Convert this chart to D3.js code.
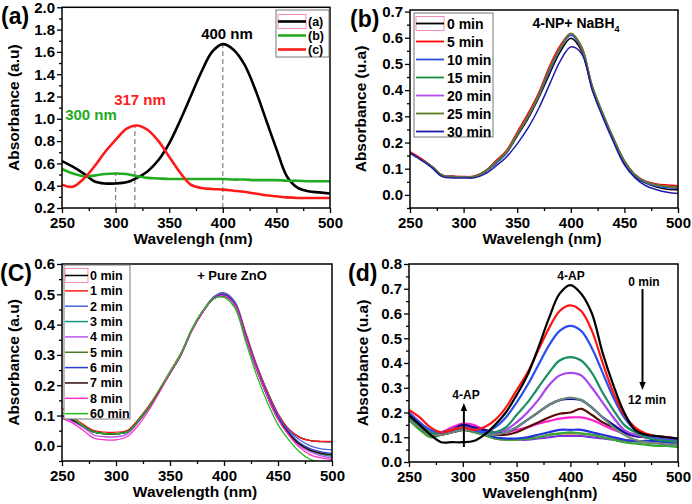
<!DOCTYPE html>
<html><head><meta charset="utf-8">
<script src="https://cdn.jsdelivr.net/npm/d3@7"></script>
<style>
html,body{margin:0;padding:0;background:#fff;}
svg{display:block;}
text{font-family:"Liberation Sans",Arial,sans-serif;font-weight:bold;}
</style></head>
<body><svg id="c" width="692" height="504"></svg>
<script>
// ---------- shared wavelength grid ----------
const wl = [250,260,270,280,290,300,310,320,330,340,350,360,370,380,390,400,410,420,430,440,450,460,470,480,490,500];
const xTicks = [250,300,350,400,450,500];

// ---------- panel (a) ----------
const aLabels = ["(a)","(b)","(c)"];
const aBlack = [.62,.57,.51,.44,.42,.42,.43,.47,.53,.63,.78,.98,1.20,1.42,1.60,1.67,1.62,1.49,1.27,1.00,.73,.48,.38,.35,.34,.33];
const aGreen = [.55,.51,.485,.49,.505,.51,.505,.485,.47,.465,.46,.46,.46,.46,.46,.46,.455,.455,.45,.45,.45,.445,.445,.44,.44,.44];
const aRed   = [.41,.39,.46,.57,.70,.81,.91,.94,.90,.80,.66,.52,.41,.38,.37,.365,.355,.345,.33,.315,.305,.295,.29,.29,.29,.29];
const aPeakX = [300,318,400];
const aPeakY = [0.51,0.94,1.67];
const aPeakText = ["300 nm","317 nm","400 nm"];
const aYTicks = [0.2,0.4,0.6,0.8,1.0,1.2,1.4,1.6,1.8,2.0];

// ---------- panel (b) ----------
const bLabels = ["0 min","5 min","10 min","15 min","20 min","25 min","30 min"];
const b0  = [.16,.135,.11,.075,.07,.068,.07,.088,.12,.16,.225,.29,.37,.46,.545,.598,.55,.405,.30,.205,.12,.07,.045,.03,.022,.02];
const b5  = [.165,.14,.11,.075,.072,.07,.072,.092,.13,.17,.24,.31,.39,.49,.57,.615,.555,.405,.30,.21,.13,.078,.052,.042,.038,.035];
const b10 = [.16,.135,.11,.075,.07,.068,.07,.088,.12,.16,.228,.295,.375,.47,.555,.61,.56,.41,.305,.21,.125,.072,.045,.033,.027,.025];
const b15 = [.16,.135,.11,.075,.07,.068,.07,.09,.125,.165,.232,.30,.38,.48,.56,.615,.565,.415,.31,.215,.13,.077,.05,.038,.032,.03];
const b20 = [.16,.135,.11,.075,.07,.068,.07,.09,.125,.165,.232,.30,.38,.48,.56,.615,.565,.415,.31,.215,.13,.077,.05,.038,.032,.03];
const b25 = [.16,.135,.11,.075,.07,.068,.07,.09,.125,.165,.232,.30,.38,.48,.56,.617,.567,.417,.31,.215,.13,.077,.05,.038,.032,.03];
const b30 = [.16,.135,.105,.07,.065,.065,.065,.08,.11,.145,.195,.255,.33,.42,.51,.565,.54,.40,.295,.20,.115,.065,.035,.02,.01,.005];
const bYTicks = [0.0,0.1,0.2,0.3,0.4,0.5,0.6,0.7];

// ---------- panel (c) ----------
const cLabels = ["0 min","1 min","2 min","3 min","4 min","5 min","6 min","7 min","8 min","60 min"];
const c0  = [.10,.085,.065,.045,.04,.04,.045,.08,.125,.18,.24,.30,.38,.44,.485,.50,.47,.37,.265,.18,.105,.055,.028,.017,.014,.013];
const c1  = [.125,.095,.07,.05,.045,.045,.05,.085,.13,.185,.245,.305,.38,.44,.49,.505,.475,.375,.27,.18,.105,.055,.028,.017,.015,.015];
const c2  = [.10,.085,.065,.045,.04,.04,.045,.08,.125,.18,.24,.30,.38,.44,.49,.505,.475,.37,.265,.175,.10,.05,.02,.0,-.01,-.013];
const c3  = [.10,.085,.065,.045,.04,.04,.045,.08,.125,.18,.24,.30,.38,.44,.485,.495,.465,.36,.255,.165,.09,.04,.005,-.015,-.028,-.035];
const c4  = [.095,.08,.06,.035,.03,.03,.038,.075,.12,.178,.24,.30,.38,.44,.485,.495,.465,.36,.255,.165,.088,.038,.0,-.02,-.033,-.04];
const c5  = [.10,.085,.065,.045,.04,.04,.045,.08,.125,.18,.24,.30,.38,.44,.485,.495,.465,.36,.255,.165,.09,.04,.005,-.015,-.025,-.03];
const c6  = [.10,.085,.065,.045,.04,.04,.045,.08,.125,.18,.24,.30,.38,.44,.485,.50,.47,.365,.26,.17,.095,.045,.01,-.01,-.02,-.025];
const c7  = [.10,.085,.065,.045,.04,.04,.045,.08,.125,.18,.24,.30,.38,.44,.485,.495,.465,.36,.255,.165,.09,.04,.005,-.015,-.025,-.03];
const c8  = [.09,.075,.05,.025,.02,.02,.03,.065,.115,.175,.24,.30,.38,.44,.485,.495,.465,.36,.255,.165,.088,.035,-.005,-.03,-.04,-.045];
const c60 = [.11,.09,.065,.045,.04,.04,.045,.08,.125,.185,.245,.305,.385,.445,.485,.49,.455,.345,.235,.145,.07,.02,-.02,-.045,-.055,-.06];
const cYTicks = [0.0,0.1,0.2,0.3,0.4,0.5,0.6];

// ---------- panel (d) ----------
const d01 = [.19,.15,.11,.08,.08,.08,.085,.11,.15,.20,.27,.35,.46,.58,.68,.715,.68,.60,.44,.31,.20,.13,.11,.105,.10,.095];
const d02 = [.21,.18,.14,.12,.13,.14,.13,.14,.17,.22,.29,.36,.45,.54,.61,.633,.61,.53,.40,.28,.19,.14,.115,.105,.10,.095];
const d03 = [.20,.16,.13,.12,.13,.14,.13,.12,.14,.18,.24,.31,.39,.47,.53,.55,.53,.46,.36,.26,.18,.13,.11,.10,.095,.09];
const d04 = [.18,.15,.12,.12,.13,.14,.13,.12,.12,.14,.19,.24,.30,.36,.41,.424,.41,.36,.28,.21,.15,.12,.10,.09,.085,.08];
const d05 = [.19,.15,.12,.12,.13,.14,.13,.12,.12,.13,.16,.20,.25,.31,.35,.36,.35,.30,.24,.18,.13,.11,.10,.095,.09,.085];
const d06 = [.17,.14,.11,.11,.12,.13,.125,.115,.11,.12,.14,.17,.20,.23,.25,.26,.25,.22,.18,.14,.11,.09,.08,.075,.07,.07];
const d07 = [.19,.15,.12,.12,.13,.15,.14,.13,.12,.12,.14,.17,.20,.23,.25,.255,.25,.22,.18,.15,.12,.105,.10,.09,.09,.085];
const d08 = [.18,.14,.11,.11,.12,.13,.125,.12,.11,.11,.12,.14,.16,.18,.195,.20,.215,.19,.16,.14,.12,.105,.10,.095,.09,.085];
const d09 = [.20,.16,.12,.12,.14,.155,.15,.13,.12,.12,.13,.14,.155,.165,.175,.18,.18,.17,.15,.13,.115,.105,.10,.10,.10,.095];
const d10 = [.19,.15,.12,.12,.13,.15,.14,.12,.10,.095,.095,.10,.11,.12,.13,.13,.13,.12,.11,.10,.09,.085,.085,.085,.08,.08];
const d11 = [.17,.13,.10,.11,.12,.13,.12,.11,.095,.09,.09,.095,.10,.11,.115,.12,.115,.11,.10,.09,.08,.075,.07,.065,.065,.06];
const d12 = [.18,.14,.11,.11,.12,.13,.125,.11,.095,.09,.09,.095,.10,.11,.115,.115,.115,.11,.10,.095,.09,.085,.08,.08,.08,.08];
const d13 = [.19,.15,.11,.11,.12,.14,.13,.11,.095,.09,.09,.09,.095,.10,.105,.105,.105,.10,.095,.09,.085,.085,.08,.08,.08,.075];
const dYTicks = [0.0,0.1,0.2,0.3,0.4,0.5,0.6,0.7,0.8];

const svg = d3.select("#c");
let clipId = 0;

function panel(o) {
  const x = d3.scaleLinear().domain([250,500]).range([o.x0,o.x1]);
  const y = d3.scaleLinear().domain(o.yd).range([o.y1,o.y0]);
  const g = svg.append("g");
  const id = "clip" + (clipId++);
  g.append("clipPath").attr("id", id).append("rect")
    .attr("x", o.x0).attr("y", o.y0).attr("width", o.x1-o.x0).attr("height", o.y1-o.y0);
  const line = d3.line().x((d,i)=>x(wl[i])).y(d=>y(d)).curve(d3.curveCatmullRom.alpha(0.5));
  const lg = g.append("g").attr("clip-path", `url(#${id})`);
  if (o.extra) o.extra(lg, x, y);
  o.series.forEach(s => {
    lg.append("path").attr("d", line(s.v)).attr("fill","none")
      .attr("stroke", s.c).attr("stroke-width", o.lw).attr("stroke-linejoin","round");
  });
  // minor ticks
  const minorX = d3.range(275, 500, 50);
  g.append("g").attr("transform",`translate(0,${o.y1})`)
    .call(d3.axisBottom(x).tickValues(minorX).tickSize(3).tickFormat(""))
    .call(a=>a.select(".domain").remove());
  const yStep = o.yTicks[1]-o.yTicks[0];
  const minorY = o.yTicks.slice(0,-1).map(v=>v+yStep/2).concat(o.yd[0] < o.yTicks[0]-1e-9 ? [o.yTicks[0]-yStep/2] : []);
  g.append("g").attr("transform",`translate(${o.x0},0)`)
    .call(d3.axisLeft(y).tickValues(minorY.filter(v=>v>=o.yd[0]-1e-9)).tickSize(3).tickFormat(""))
    .call(a=>a.select(".domain").remove());
  // major ticks
  const ax = g.append("g").attr("transform",`translate(0,${o.y1})`)
    .call(d3.axisBottom(x).tickValues(xTicks).tickSize(5).tickPadding(4).tickFormat(d3.format("d")));
  ax.select(".domain").remove();
  ax.selectAll("text").attr("font-size", 15).attr("font-family",'"Liberation Sans",Arial,sans-serif').attr("font-weight","bold").attr("fill","#000");
  const ay = g.append("g").attr("transform",`translate(${o.x0},0)`)
    .call(d3.axisLeft(y).tickValues(o.yTicks).tickSize(5).tickPadding(2).tickFormat(d3.format(".1f")));
  ay.select(".domain").remove();
  ay.selectAll("text").attr("font-size", 15).attr("font-family",'"Liberation Sans",Arial,sans-serif').attr("font-weight","bold").attr("fill","#000");
  g.selectAll(".tick line").attr("stroke","#000").attr("stroke-width",1.3);
  // frame
  g.append("rect").attr("x",o.x0).attr("y",o.y0).attr("width",o.x1-o.x0).attr("height",o.y1-o.y0)
    .attr("fill","none").attr("stroke","#000").attr("stroke-width",1.5);
  // titles
  g.append("text").attr("x",o.xt).attr("y",o.y1+36).attr("text-anchor","middle").attr("font-size",15.5).text(o.xTitle);
  g.append("text").attr("transform",`translate(${o.yx},${(o.y0+o.y1)/2}) rotate(-90)`)
    .attr("text-anchor","middle").attr("font-size",15.5).text(o.yTitle);
  g.append("text").attr("x",o.lx).attr("y",o.y0+17).attr("font-size",23).text(o.label);
  // legend
  if (o.legend) {
    const L = o.legend;
    g.append("rect").attr("x",L.x0).attr("y",L.y0).attr("width",L.x1-L.x0).attr("height",L.y1-L.y0)
      .attr("fill","#fff").attr("stroke","#777").attr("stroke-width",1);
    o.series.forEach((s,i)=>{
      const yy = L.ry + i*L.step;
      if (i===0) g.append("rect").attr("x",L.lx0).attr("y",yy-7).attr("width",L.lx1-L.lx0).attr("height",14)
        .attr("fill","none").attr("stroke","#f28cb4").attr("stroke-width",1);
      g.append("line").attr("x1",L.lx0).attr("x2",L.lx1).attr("y1",yy).attr("y2",yy)
        .attr("stroke",s.c).attr("stroke-width",L.lw);
      g.append("text").attr("x",L.tx).attr("y",yy+L.fs*0.36).attr("font-size",L.fs).text(s.name);
    });
  }
  return {g,x,y};
}

// ----- (a)
const A = panel({
  x0:62, x1:330, y0:7.3, y1:208, yd:[0.2,2.0], yTicks:aYTicks, lw:2.6,
  series:[{v:aBlack,c:"#000000",name:aLabels[0]},{v:aGreen,c:"#22aa22",name:aLabels[1]},{v:aRed,c:"#ff1a1a",name:aLabels[2]}],
  xTitle:"Wavelengh (nm)", xt:193, yTitle:"Absorbance (a.u)", yx:19, lx:1, label:"(a)",
  legend:{x0:276,x1:329,y0:10,y1:57,lx0:278,lx1:306,tx:308,ry:21.5,step:14,fs:12.5,lw:2.6},
  extra:(lg,x,y)=>{
    aPeakX.forEach((p,i)=>{
      lg.append("line").attr("x1",x(p)).attr("x2",x(p)).attr("y1",y(0.2)).attr("y2",y(aPeakY[i]))
        .attr("stroke","#888").attr("stroke-width",1.3).attr("stroke-dasharray","5,3");
    });
  }
});
const aCol = ["#22aa22","#ff1a1a","#000000"];
const aTx = [91,140,227], aTy = [120,104.5,38.5];
aPeakText.forEach((t,i)=>{
  A.g.append("text").attr("x",aTx[i]).attr("y",aTy[i]).attr("text-anchor","middle").attr("font-size",15).attr("fill",aCol[i]).text(t);
});

// ----- (b)
const bCols = ["#000000","#ff0000","#2a4fd8","#1b8a3c","#b04ef0","#5a7a1e","#1c1ca8"];
const bVals = [b0,b5,b10,b15,b20,b25,b30];
const B = panel({
  x0:410, x1:678, y0:10, y1:208, yd:[-0.05,0.706], yTicks:bYTicks, lw:1.5,
  series:bVals.map((v,i)=>({v,c:bCols[i],name:bLabels[i]})),
  xTitle:"Wavelengh (nm)", xt:542, yTitle:"Absorbance (u.a)", yx:366, lx:350, label:"(b)",
  legend:{x0:414,x1:493,y0:13,y1:137,lx0:416,lx1:444,tx:447,ry:23.5,step:18,fs:14,lw:1.8}
});
const bt = B.g.append("text").attr("x",576).attr("y",28).attr("text-anchor","middle").attr("font-size",14);
bt.append("tspan").text("4-NP+ NaBH");
bt.append("tspan").attr("font-size",9).attr("dy",4).text("4");

// ----- (c)
const cCols = ["#000000","#ff1a1a","#4a64e0","#14967a","#bb55f0","#4a7a22","#2a3ccc","#2a0a0a","#ff30c8","#22bb22"];
const cVals = [c0,c1,c2,c3,c4,c5,c6,c7,c8,c60];
const C = panel({
  x0:62, x1:332, y0:264, y1:461, yd:[-0.05,0.6], yTicks:cYTicks, lw:1.3,
  series:cVals.map((v,i)=>({v,c:cCols[i],name:cLabels[i]})),
  xTitle:"Wavelength (nm)", xt:195, yTitle:"Absorbance (a.u)", yx:19, lx:0, label:"(C)",
  legend:{x0:64,x1:130,y0:265,y1:419,lx0:65,lx1:88,tx:90,ry:275.5,step:15.35,fs:12.5,lw:1.5}
});
C.g.append("text").attr("x",232).attr("y",279.5).attr("text-anchor","middle").attr("font-size",13).text("+ Pure ZnO");

// ----- (d)
const dCols = ["#000000","#ff1414","#2a4ff0","#1a9060","#a845ee","#6a8a7a","#0a0aa0","#5a0a0a","#ff22cc","#2233dd","#33aa33","#ee6a50","#7733dd"];
const dVals = [d01,d02,d03,d04,d05,d06,d07,d08,d09,d10,d11,d12,d13];
const D = panel({
  x0:409, x1:678, y0:264, y1:462, yd:[0,0.8], yTicks:dYTicks, lw:2.2,
  series:dVals.map((v,i)=>({v,c:dCols[i]})).reverse(),
  xTitle:"Wavelengh(nm)", xt:540, yTitle:"Absorbance (u.a)", yx:368, lx:348, label:"(d)"
});
const dAnn = [["4-AP",571,279.5],["0 min",644,286],["12 min",647,403.5],["4-AP",466,399]];
dAnn.forEach(a=>D.g.append("text").attr("x",a[1]).attr("y",a[2]).attr("text-anchor","middle").attr("font-size",12).text(a[0]));
svg.append("defs").append("marker").attr("id","ah").attr("viewBox","0 0 10 10").attr("refX",5).attr("refY",5)
  .attr("markerWidth",4).attr("markerHeight",5).attr("orient","auto")
  .append("path").attr("d","M0,1 L10,5 L0,9 Z").attr("fill","#000");
D.g.append("line").attr("x1",D.x(467)).attr("x2",D.x(467)).attr("y1",289).attr("y2",386)
  .attr("stroke","#000").attr("stroke-width",2).attr("marker-end","url(#ah)");
D.g.append("line").attr("x1",D.x(301)).attr("x2",D.x(301)).attr("y1",447).attr("y2",407)
  .attr("stroke","#000").attr("stroke-width",2).attr("marker-end","url(#ah)");
</script></body></html>
